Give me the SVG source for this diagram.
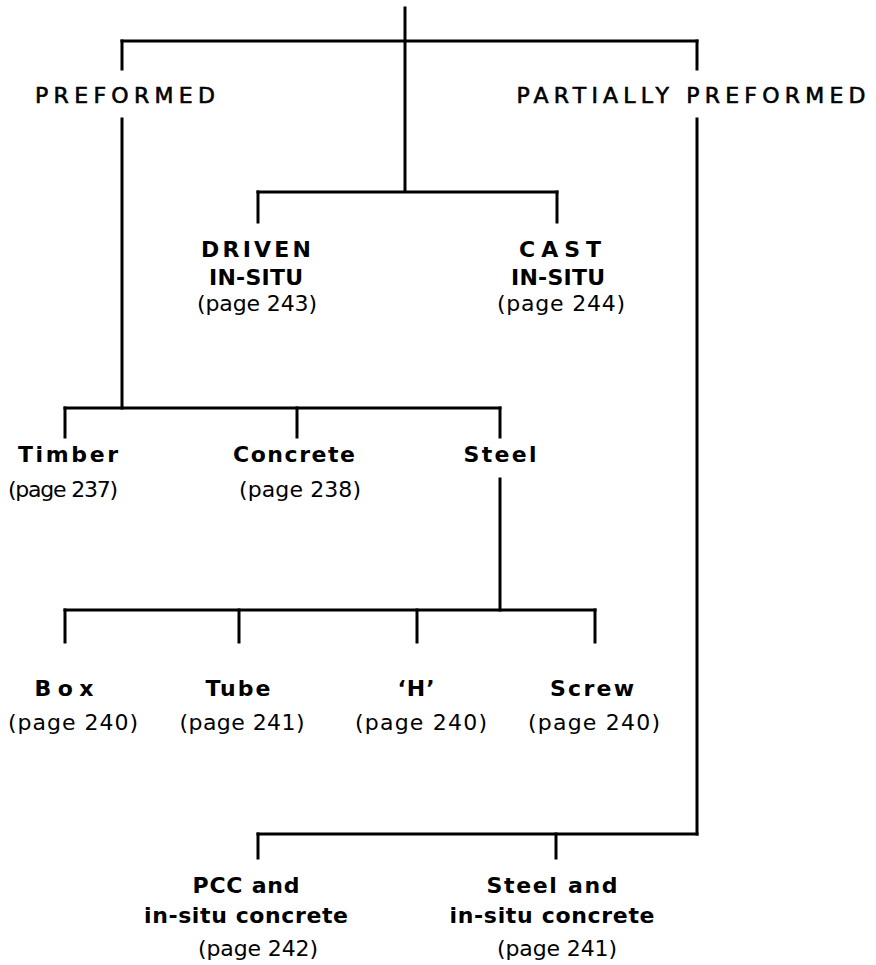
<svg xmlns="http://www.w3.org/2000/svg" width="876" height="965" viewBox="0 0 876 965">
<style>
.c line{stroke:#000;stroke-width:3;stroke-linecap:square}
text{font-family:"DejaVu Sans","Liberation Sans",sans-serif;font-size:22px;fill:#000;text-anchor:middle}
.b{font-weight:bold}
.m{stroke:#000;stroke-width:0.6}
</style>
<rect width="876" height="965" fill="#fff"/>
<g class="c" id="connectors">
<line x1="405" y1="8" x2="405" y2="190"/>
<line x1="122" y1="41" x2="697" y2="41"/>
<line x1="122" y1="41" x2="122" y2="69"/>
<line x1="697" y1="41" x2="697" y2="69"/>
<line x1="258" y1="192" x2="557" y2="192"/>
<line x1="258" y1="192" x2="258" y2="222"/>
<line x1="557" y1="192" x2="557" y2="222"/>
<line x1="122" y1="119" x2="122" y2="408"/>
<line x1="65" y1="408" x2="500" y2="408"/>
<line x1="65" y1="408" x2="65" y2="437"/>
<line x1="297" y1="408" x2="297" y2="437"/>
<line x1="500" y1="408" x2="500" y2="437"/>
<line x1="500" y1="479" x2="500" y2="610"/>
<line x1="65" y1="610" x2="595" y2="610"/>
<line x1="65" y1="610" x2="65" y2="642"/>
<line x1="239" y1="610" x2="239" y2="642"/>
<line x1="417" y1="610" x2="417" y2="642"/>
<line x1="595" y1="610" x2="595" y2="642"/>
<line x1="697" y1="119" x2="697" y2="834"/>
<line x1="258" y1="834" x2="697" y2="834"/>
<line x1="258" y1="834" x2="258" y2="858"/>
<line x1="556" y1="834" x2="556" y2="858"/>
</g>
<g id="preformed"><text class="m" x="125" y="103" textLength="180" lengthAdjust="spacing">PREFORMED</text></g>
<g id="partially-preformed"><text class="m" x="691" y="103" textLength="349" lengthAdjust="spacing">PARTIALLY PREFORMED</text></g>
<g id="driven"><text class="b" x="256" y="257" textLength="110" lengthAdjust="spacing">DRIVEN</text><text class="b" x="256" y="285" textLength="94" lengthAdjust="spacing">IN-SITU</text><text x="257" y="311" textLength="120" lengthAdjust="spacing">(page 243)</text></g>
<g id="cast"><text class="b" x="560" y="257" textLength="82" lengthAdjust="spacing">CAST</text><text class="b" x="558" y="285" textLength="94" lengthAdjust="spacing">IN-SITU</text><text x="561" y="311" textLength="128" lengthAdjust="spacing">(page 244)</text></g>
<g id="timber"><text class="b" x="68" y="462" textLength="100" lengthAdjust="spacing">Timber</text><text x="63" y="497" textLength="110" lengthAdjust="spacing">(page 237)</text></g>
<g id="concrete"><text class="b" x="294" y="462" textLength="122" lengthAdjust="spacing">Concrete</text><text x="300" y="497" textLength="122" lengthAdjust="spacing">(page 238)</text></g>
<g id="steel"><text class="b" x="500" y="462" textLength="73" lengthAdjust="spacing">Steel</text></g>
<g id="box"><text class="b" x="64" y="696" textLength="59" lengthAdjust="spacing">Box</text><text x="73" y="730" textLength="130" lengthAdjust="spacing">(page 240)</text></g>
<g id="tube"><text class="b" x="238" y="696" textLength="65" lengthAdjust="spacing">Tube</text><text x="242" y="730" textLength="125" lengthAdjust="spacing">(page 241)</text></g>
<g id="h"><text class="b" x="416" y="696" textLength="37" lengthAdjust="spacing">‘H’</text><text x="421" y="730" textLength="132" lengthAdjust="spacing">(page 240)</text></g>
<g id="screw"><text class="b" x="592" y="696" textLength="84" lengthAdjust="spacing">Screw</text><text x="594" y="730" textLength="132" lengthAdjust="spacing">(page 240)</text></g>
<g id="pcc"><text class="b" x="246" y="893" textLength="107" lengthAdjust="spacing">PCC  and</text><text class="b" x="246" y="923" textLength="204" lengthAdjust="spacing">in-situ concrete</text><text x="258" y="956" textLength="120" lengthAdjust="spacing">(page 242)</text></g>
<g id="steel-and"><text class="b" x="552" y="893" textLength="131" lengthAdjust="spacing">Steel and</text><text class="b" x="552" y="923" textLength="205" lengthAdjust="spacing">in-situ concrete</text><text x="557" y="956" textLength="120" lengthAdjust="spacing">(page 241)</text></g>
</svg>
